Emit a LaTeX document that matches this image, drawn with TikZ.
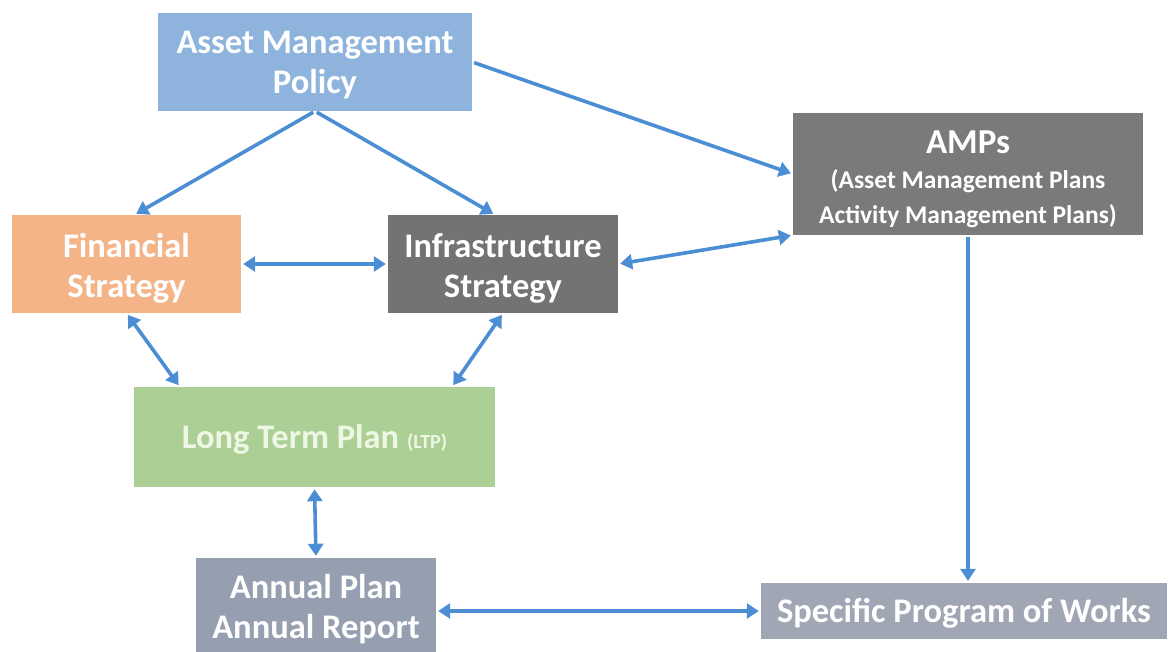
\documentclass[tikz,border=0pt]{standalone}
\usepackage{fontspec}
\setmainfont{Carlito}
\usetikzlibrary{arrows.meta}
\definecolor{polblue}{HTML}{8EB4DE}
\definecolor{finorange}{HTML}{F4B487}
\definecolor{dgray}{HTML}{737373}
\definecolor{ampgray}{HTML}{7A7A7A}
\definecolor{ltpgreen}{HTML}{ABCF94}
\definecolor{ltptext}{HTML}{EEF7E4}
\definecolor{anngray}{HTML}{959FB0}
\definecolor{specgray}{HTML}{A0A6B4}
\definecolor{arr}{HTML}{4C8ED4}
\tikzset{
  box/.style={rectangle, inner sep=0pt},
  txt/.style={inner sep=0pt, align=center, text=white, font=\bfseries\fontsize{34.5}{40}\selectfont},
  link/.style={draw=arr, line width=3.6pt, -{Triangle[width=15pt,length=12pt]}, shorten >=2pt, shorten <=2pt},
  blink/.style={draw=arr, line width=3.6pt, {Triangle[width=15pt,length=12pt]}-{Triangle[width=15pt,length=12pt]}, shorten >=2pt, shorten <=2pt}
}
\begin{document}
\begin{tikzpicture}[x=1pt,y=-1pt]
\useasboundingbox (0,0) rectangle (1170,652);
\node[box, fill=polblue, minimum width=314pt, minimum height=98pt] (pol) at (315,62) {};
\node[box, fill=ampgray, minimum width=350pt, minimum height=122pt] (amp) at (968,174) {};
\node[box, fill=finorange, minimum width=229pt, minimum height=98pt] (fin) at (126.5,264) {};
\node[box, fill=dgray, minimum width=230pt, minimum height=98pt] (inf) at (503,264) {};
\node[box, fill=ltpgreen, minimum width=361pt, minimum height=100pt] (ltp) at (314.5,437) {};
\node[box, fill=anngray, minimum width=240pt, minimum height=98pt] (ann) at (316,607) {};
\node[box, fill=specgray, minimum width=406pt, minimum height=56pt] (spe) at (964,611) {};
\node[txt] (polt) at ([yshift=-3pt]pol.center) {Asset Management\\Policy};
\node[txt, font=\bfseries\fontsize{25.5}{35}\selectfont] (ampt) at ([yshift=-5pt]amp.center) {{\fontsize{35}{36}\selectfont AMPs}\\(Asset Management Plans\\Activity Management Plans)};
\node[txt] (fint) at ([yshift=-4pt]fin.center) {Financial\\Strategy};
\node[txt] (inft) at ([yshift=-4pt]inf.center) {Infrastructure\\Strategy};
\node[txt, text=ltptext] (ltpt) at ([yshift=-2pt]ltp.center) {Long Term Plan {\fontsize{20}{22}\selectfont (LTP)}};
\node[txt] (annt) at ([yshift=-2pt]ann.center) {Annual Plan\\Annual Report};
\node[txt] (spet) at ([yshift=-2pt]spe.center) {Specific Program of Works};
\draw[link] (pol.south) -- ([xshift=8pt]fin.north);
\draw[link] (pol.south) -- ([xshift=-8pt]inf.north);
\draw[link] (pol.east) -- (amp.west);
\draw[blink] (fin.east) -- (inf.west);
\draw[blink] (inf.east) -- (amp.south west);
\draw[blink] (fin.south) -- ([xshift=46pt]ltp.north west);
\draw[blink] (inf.south) -- ([xshift=-43pt]ltp.north east);
\draw[blink] (ltp.south) -- (ann.north);
\draw[link] (amp.south) -- (amp.south |- spe.north);
\draw[blink] (ann.east |- spe.west) -- (spe.west);
\end{tikzpicture}
\end{document}
